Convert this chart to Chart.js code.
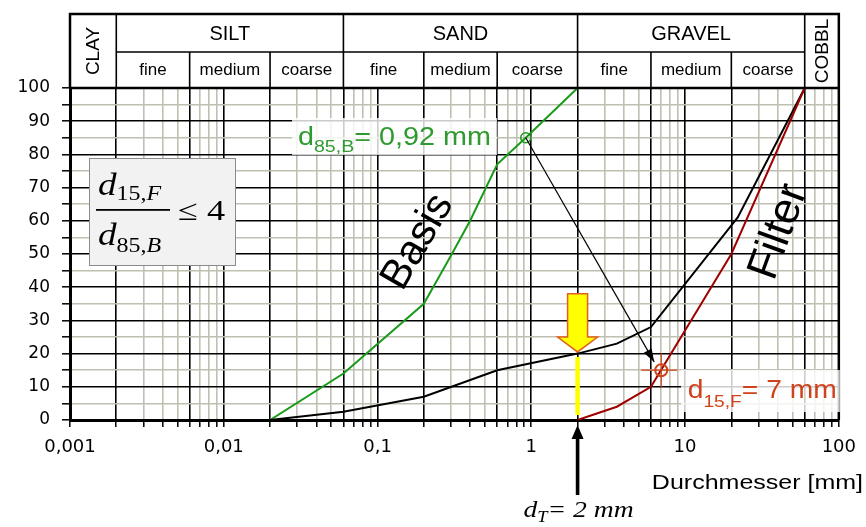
<!DOCTYPE html>
<html>
<head>
<meta charset="utf-8">
<script src="https://cdn.jsdelivr.net/npm/chart.js@4.4.0/dist/chart.umd.min.js"></script>
<style>
  html, body { margin: 0; padding: 0; background: #fff; }
  #wrap { width: 866px; height: 527px; }
</style>
</head>
<body>
<div id="wrap"><canvas id="sieve" width="866" height="527"></canvas></div>
<script>
// grain size [mm] vs. percent passing
const basisSize = [0.02, 0.06, 0.2, 0.3, 0.4, 0.6, 0.92, 2];
const basisPass = [0, 14, 35, 49.5, 60, 77, 85, 100];
const filterSize = [0.02, 0.06, 0.2, 0.6, 2, 3.6, 6, 22, 60];
const filterPass = [0, 2.5, 7, 15, 20, 23, 28, 61, 100];
const filterRedSize = [2, 3.6, 6, 20, 60];
const filterRedPass = [0, 4, 10, 50, 100];

// characteristic points
const d85B = [0.92, 85];
const d15F = [7, 15];
const arrowEnd = [6.3, 17.5];
const dT = 2;
const dTLine = [1.5, 19];
const yellowArrow = [38, 25, 20.5]; // top, head start, tip (percent)

// axis ticks
const decades = [0.001, 0.01, 0.1, 1, 10, 100];
const decadeLabels = ['0,001', '0,01', '0,1', '1', '10', '100'];
const minorSteps = [3, 4, 5, 7, 8, 9];

// soil classes (header)
const mainClasses = ['CLAY', 'SILT', 'SAND', 'GRAVEL', 'COBBL'];
const mainBounds = [0.001, 0.002, 0.06, 2, 60, 100];
const subClasses = ['fine', 'medium', 'coarse', 'fine', 'medium', 'coarse', 'fine', 'medium', 'coarse'];
const subBounds = [0.002, 0.006, 0.02, 0.06, 0.2, 0.6, 2, 6, 20, 60];

const green = '#1a9a1a';
const darkRed = '#a00000';
const orange = '#d0421b';
const greyGrid = '#c0c0b2';
const sans = '"Liberation Sans", Arial, sans-serif';
const serif = '"Liberation Serif", "Times New Roman", serif';

// grid lines along x: decades + class bounds black, the rest grey
const xGrid = [];
decades.forEach(d => xGrid.push({ v: d, bold: true }));
subBounds.forEach(b => { if (!xGrid.some(g => Math.abs(g.v - b) < 1e-9)) xGrid.push({ v: b, bold: true }); });
decades.slice(0, 5).forEach(d => minorSteps.forEach(m => {
  const v = +(d * m).toPrecision(6);
  if (!xGrid.some(g => Math.abs(g.v - v) < 1e-9)) xGrid.push({ v: v, bold: false });
}));
xGrid.sort((a, b) => a.v - b.v);

function pts(xs, ys) { return xs.map((x, i) => ({ x: x, y: ys[i] })); }

function drawRuns(ctx, parts, x, y, align, sx, color) {
  let w = 0;
  parts.forEach(p => { ctx.font = p[1]; w += ctx.measureText(p[0]).width; });
  w *= sx;
  const start = align === 'right' ? x - w : align === 'center' ? x - w / 2 : x;
  ctx.save();
  ctx.fillStyle = color;
  ctx.textAlign = 'left';
  ctx.textBaseline = 'alphabetic';
  ctx.translate(start, y);
  ctx.scale(sx, 1);
  let cx = 0;
  parts.forEach(p => {
    ctx.font = p[1];
    ctx.fillText(p[0], cx, p[2] || 0);
    cx += ctx.measureText(p[0]).width;
  });
  ctx.restore();
  return { left: start, width: w };
}

function arrowHead(ctx, x1, y1, x2, y2, len, half) {
  const a = Math.atan2(y2 - y1, x2 - x1);
  ctx.beginPath();
  ctx.moveTo(x2, y2);
  ctx.lineTo(x2 - len * Math.cos(a) + half * Math.sin(a), y2 - len * Math.sin(a) - half * Math.cos(a));
  ctx.lineTo(x2 - len * Math.cos(a) - half * Math.sin(a), y2 - len * Math.sin(a) + half * Math.cos(a));
  ctx.closePath();
  ctx.fill();
}

const decor = {
  id: 'decor',
  afterDatasetsDraw(chart) {
    const ctx = chart.ctx;
    const xs = chart.scales.x, ys = chart.scales.y;
    const area = chart.chartArea;
    const X = v => xs.getPixelForValue(v);
    const Y = v => ys.getPixelForValue(v);
    const headTop = 14, headMid = 52;

    ctx.save();

    // header table
    ctx.strokeStyle = '#000';
    ctx.lineWidth = 1.6;
    ctx.beginPath();
    ctx.moveTo(X(mainBounds[1]), headMid);
    ctx.lineTo(X(mainBounds[4]), headMid);
    mainBounds.slice(1, 5).forEach(b => { ctx.moveTo(X(b), headTop); ctx.lineTo(X(b), area.top); });
    subBounds.forEach(b => { ctx.moveTo(X(b), headMid); ctx.lineTo(X(b), area.top); });
    ctx.stroke();
    ctx.lineWidth = 2.5;
    ctx.beginPath();
    ctx.moveTo(area.left, area.top);
    ctx.lineTo(area.left, headTop);
    ctx.lineTo(area.right, headTop);
    ctx.lineTo(area.right, area.bottom);
    ctx.moveTo(area.left, area.top);
    ctx.lineTo(area.right, area.top);
    ctx.stroke();

    ctx.fillStyle = '#000';
    ctx.textAlign = 'center';
    ctx.textBaseline = 'middle';
    ctx.font = '20px ' + sans;
    for (let i = 1; i < 4; i++) {
      ctx.fillText(mainClasses[i], (X(mainBounds[i]) + X(mainBounds[i + 1])) / 2, (headTop + headMid) / 2 + 1);
    }
    ctx.font = '17px ' + sans;
    for (let i = 0; i < subClasses.length; i++) {
      ctx.fillText(subClasses[i], (X(subBounds[i]) + X(subBounds[i + 1])) / 2, (headMid + area.top) / 2);
    }
    ctx.font = '19px ' + sans;
    [[0, mainClasses[0]], [4, mainClasses[4]]].forEach(([i, t]) => {
      ctx.save();
      ctx.translate((X(mainBounds[i]) + X(mainBounds[i + 1])) / 2 + 1, (headTop + area.top) / 2);
      ctx.rotate(-Math.PI / 2);
      ctx.fillText(t, 0, 0);
      ctx.restore();
    });

    // yellow block arrow at d_T
    const ax = X(dT);
    ctx.fillStyle = '#ffff00';
    ctx.strokeStyle = '#e0601c';
    ctx.lineWidth = 1.5;
    ctx.beginPath();
    ctx.moveTo(ax - 10, Y(yellowArrow[0]));
    ctx.lineTo(ax + 10, Y(yellowArrow[0]));
    ctx.lineTo(ax + 10, Y(yellowArrow[1]));
    ctx.lineTo(ax + 20, Y(yellowArrow[1]));
    ctx.lineTo(ax, Y(yellowArrow[2]));
    ctx.lineTo(ax - 20, Y(yellowArrow[1]));
    ctx.lineTo(ax - 10, Y(yellowArrow[1]));
    ctx.closePath();
    ctx.fill();
    ctx.stroke();

    // crosshair at d15,F
    const rx = X(d15F[0]), ry = Y(d15F[1]);
    ctx.strokeStyle = orange;
    ctx.lineWidth = 1.2;
    ctx.beginPath();
    ctx.moveTo(rx - 20, ry); ctx.lineTo(rx + 16, ry);
    ctx.moveTo(rx, ry - 17); ctx.lineTo(rx, ry + 17);
    ctx.stroke();

    // thin arrow d85,B -> d15,F
    const gx = X(d85B[0]), gy = Y(d85B[1]);
    const ex = X(arrowEnd[0]), ey = Y(arrowEnd[1]);
    ctx.strokeStyle = '#000';
    ctx.fillStyle = '#000';
    ctx.lineWidth = 1.2;
    ctx.beginPath();
    ctx.moveTo(gx, gy);
    ctx.lineTo(ex, ey);
    ctx.stroke();
    arrowHead(ctx, gx, gy, ex, ey, 13, 4.5);

    // green label
    const gParts = [['d', '25px ' + sans, 0], ['85,B', '17px ' + sans, 7], ['= 0,92 mm', '25px ' + sans, 0]];
    const gLeft = 298, gBase = 145;
    ctx.fillStyle = 'rgba(255,255,255,0.8)';
    ctx.fillRect(gLeft - 6, gBase - 27, 205, 37);
    drawRuns(ctx, gParts, gLeft, gBase, 'left', 1.15, '#2f9a2f');

    // red label
    const rParts = [['d', '25px ' + sans, 0], ['15,F', '17px ' + sans, 9], ['= 7 mm', '25px ' + sans, 0]];
    const rBase = 398;
    ctx.fillStyle = 'rgba(255,255,255,0.8)';
    ctx.fillRect(681, rBase - 28, area.right - 681 + 1, 42);
    drawRuns(ctx, rParts, area.right - 2, rBase, 'right', 1.13, orange);

    // Basis / Filter
    ctx.fillStyle = '#000';
    ctx.textAlign = 'center';
    ctx.textBaseline = 'middle';
    ctx.save();
    ctx.translate(418, 242);
    ctx.rotate(-60 * Math.PI / 180);
    ctx.font = '42px ' + sans;
    ctx.fillText('Basis', 0, 0);
    ctx.restore();
    ctx.save();
    ctx.translate(779, 232);
    ctx.rotate(-70 * Math.PI / 180);
    ctx.font = '44px ' + sans;
    ctx.fillText('Filter', 0, 0);
    ctx.restore();

    // filter rule box
    ctx.fillStyle = '#f2f2f2';
    ctx.fillRect(89, 158, 146, 107);
    ctx.strokeStyle = '#8a8a8a';
    ctx.lineWidth = 1;
    ctx.strokeRect(89.5, 158.5, 146, 107);
    const fNum = [['d', 'italic 31px ' + serif, 0], ['15', '20px ' + serif, 5], [',', '20px ' + serif, 5], ['F', 'italic 20px ' + serif, 5]];
    const fDen = [['d', 'italic 31px ' + serif, 0], ['85', '20px ' + serif, 7], [',', '20px ' + serif, 7], ['B', 'italic 20px ' + serif, 7]];
    drawRuns(ctx, fNum, 98, 195, 'left', 1.2, '#000');
    drawRuns(ctx, fDen, 98, 245, 'left', 1.2, '#000');
    ctx.fillStyle = '#000';
    ctx.fillRect(96, 209, 74, 1.8);
    drawRuns(ctx, [['\u2264 4', '29px ' + serif, 0]], 178, 220, 'left', 1.25, '#000');

    // d_T arrow and label
    ctx.fillStyle = '#000';
    ctx.fillRect(ax - 1.8, area.bottom + 17, 3.6, 75 - 17);
    arrowHead(ctx, ax, area.bottom + 75, ax, area.bottom + 5, 14, 6);
    drawRuns(ctx, [['d', 'italic 24px ' + serif, 0], ['T', 'italic 16px ' + serif, 5], ['= 2 mm', 'italic 24px ' + serif, 0]],
      ax + 1, 517, 'center', 1.15, '#000');

    // axis title
    drawRuns(ctx, [['Durchmesser [mm]', '20px ' + sans, 0]], 863, 489, 'right', 1.25, '#000');

    ctx.restore();
  }
};

Chart.defaults.font.family = sans;
Chart.defaults.color = '#000';

new Chart(document.getElementById('sieve').getContext('2d'), {
  type: 'scatter',
  data: {
    datasets: [
      { label: 'd15F', data: pts([d15F[0]], [d15F[1]]), pointStyle: 'circle', pointRadius: 6,
        pointBorderColor: orange, pointBackgroundColor: 'rgba(0,0,0,0)', pointBorderWidth: 2 },
      { label: 'd85B', data: pts([d85B[0]], [d85B[1]]), pointStyle: 'circle', pointRadius: 5,
        pointBorderColor: green, pointBackgroundColor: 'rgba(0,0,0,0)', pointBorderWidth: 1.5 },
      { label: 'Filter red', data: pts(filterRedSize, filterRedPass), showLine: true,
        borderColor: darkRed, borderWidth: 2, pointRadius: 0 },
      { label: 'Filter', data: pts(filterSize, filterPass), showLine: true,
        borderColor: '#000', borderWidth: 2, pointRadius: 0 },
      { label: 'Basis', data: pts(basisSize, basisPass), showLine: true,
        borderColor: green, borderWidth: 2, pointRadius: 0 },
      { label: 'dT', data: pts([dT, dT], dTLine), showLine: true,
        borderColor: '#ffff00', borderWidth: 4.5, pointRadius: 0 }
    ]
  },
  options: {
    responsive: false,
    animation: false,
    layout: { padding: { top: 88, right: 23, left: 0, bottom: 0 } },
    plugins: { legend: { display: false }, tooltip: { enabled: false } },
    scales: {
      x: {
        type: 'logarithmic',
        min: 0.001,
        max: 100,
        afterFit(scale) { scale.height = 107; },
        afterBuildTicks(scale) { scale.ticks = xGrid.map(g => ({ value: g.v })); },
        ticks: {
          autoSkip: false,
          maxRotation: 0,
          padding: 10,
          font: { family: '"DejaVu Sans", sans-serif', size: 18 },
          callback(v) {
            const i = decades.findIndex(d => Math.abs(d - v) / d < 1e-6);
            return i >= 0 ? decadeLabels[i] : '';
          }
        },
        grid: {
          color: c => (xGrid[c.index] && xGrid[c.index].bold) ? '#000' : greyGrid,
          lineWidth: 1.6,
          tickColor: '#000',
          tickLength: 7,
          tickWidth: 1.5
        },
        border: { color: '#000', width: 3 }
      },
      y: {
        min: 0,
        max: 100,
        afterFit(scale) { scale.width = 70; },
        ticks: {
          stepSize: 5,
          autoSkip: false,
          padding: 12,
          font: { family: '"DejaVu Sans", sans-serif', size: 17 },
          callback: v => (v % 10 === 0 ? v : '')
        },
        grid: {
          color: c => (c.tick && c.tick.value % 10 === 0) ? '#000' : greyGrid,
          lineWidth: 1.6,
          tickColor: '#000',
          tickLength: 8,
          tickWidth: 1.5
        },
        border: { color: '#000', width: 3 }
      }
    }
  },
  plugins: [decor]
});
</script>
</body>
</html>
